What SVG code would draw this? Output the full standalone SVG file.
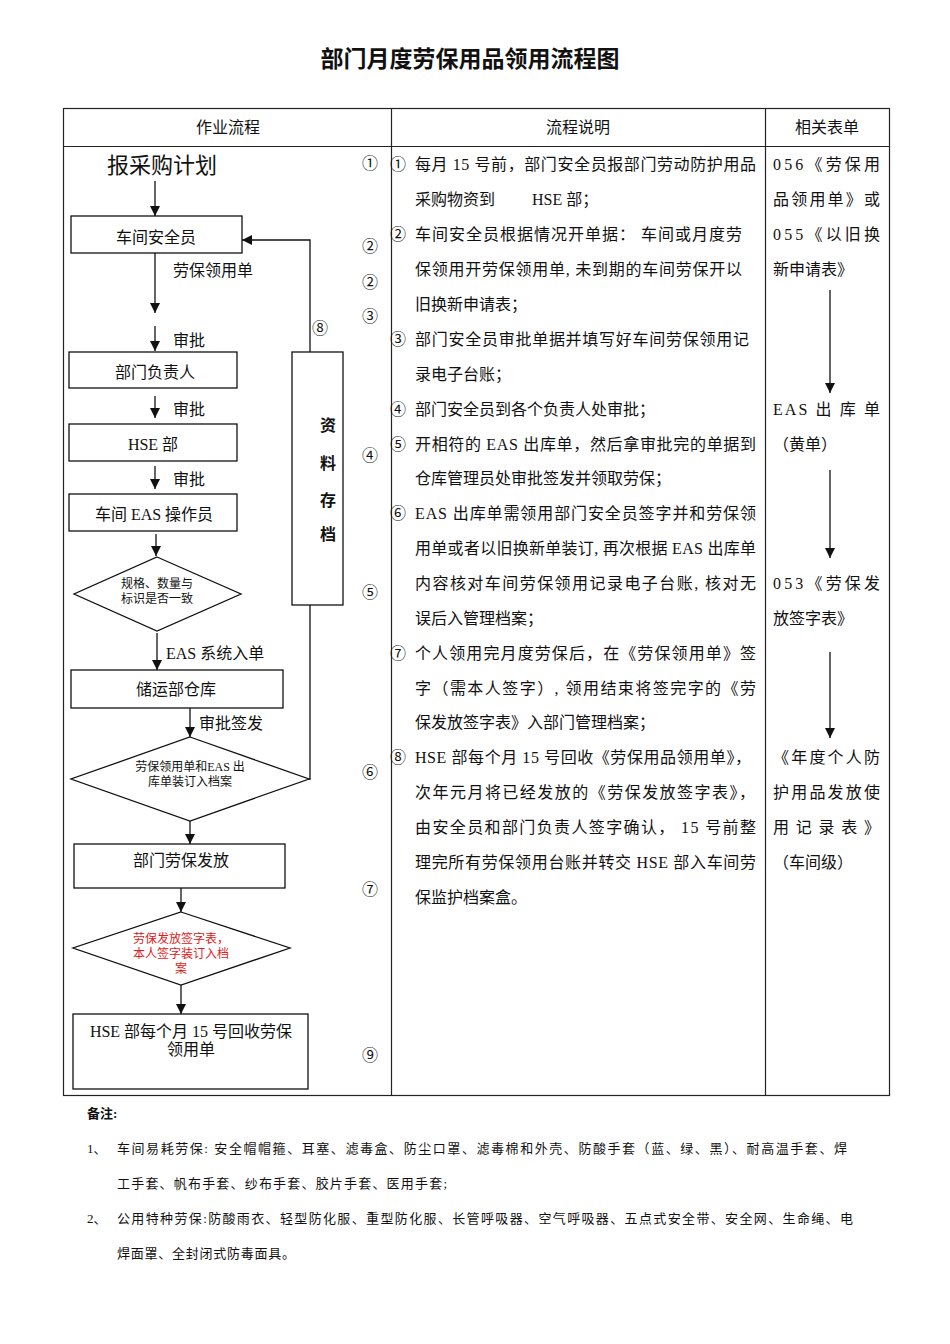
<svg xmlns="http://www.w3.org/2000/svg" width="950" height="1344" viewBox="0 0 950 1344">
<style>
text{font-family:"Liberation Serif","Noto Sans CJK SC",serif;fill:#111;dominant-baseline:central}
.t16{font-size:16px}
.t12{font-size:12px}
.t13{font-size:13px}
.num{font-size:16px;text-anchor:middle}
.mid{text-anchor:middle}
.red{fill:#e02020}
.box{fill:#fff;stroke:#111;stroke-width:1.3}
.grid{stroke:#222;stroke-width:1.2;fill:none}
.ln{stroke:#111;stroke-width:1.3;fill:none}
</style>
<defs>
<marker id="ah" viewBox="0 0 10 10" refX="10" refY="5" markerWidth="10" markerHeight="10" markerUnits="userSpaceOnUse" orient="auto">
<path d="M0,0 L10,5 L0,10 z" fill="#111"/>
</marker>
</defs>
<rect width="950" height="1344" fill="#fff"/>
<text x="470" y="57" class="mid" style="font-size:23px;font-weight:bold;font-family:'Noto Sans CJK SC',sans-serif">部门月度劳保用品领用流程图</text>

<g id="table">
<rect x="63.5" y="108.5" width="826" height="987" class="grid"/>
<line x1="63" y1="146.5" x2="889" y2="146.5" class="grid"/>
<line x1="391.5" y1="108" x2="391.5" y2="1095" class="grid"/>
<line x1="765.5" y1="108" x2="765.5" y2="1095" class="grid"/>
<text x="228" y="127" class="t16 mid">作业流程</text>
<text x="578" y="127" class="t16 mid">流程说明</text>
<text x="827" y="127" class="t16 mid">相关表单</text>
</g>

<g id="connectors">
<line x1="155" y1="181" x2="155" y2="216" class="ln" marker-end="url(#ah)"/>
<line x1="155" y1="253" x2="155" y2="313" class="ln" marker-end="url(#ah)"/>
<line x1="155" y1="326" x2="155" y2="351" class="ln" marker-end="url(#ah)"/>
<line x1="155" y1="396" x2="155" y2="418" class="ln" marker-end="url(#ah)"/>
<line x1="155" y1="466" x2="155" y2="489" class="ln" marker-end="url(#ah)"/>
<line x1="156" y1="534" x2="156" y2="556" class="ln" marker-end="url(#ah)"/>
<line x1="157" y1="633" x2="157" y2="670" class="ln" marker-end="url(#ah)"/>
<line x1="190" y1="708" x2="190" y2="737" class="ln" marker-end="url(#ah)"/>
<polyline points="309,779 310,779 310,240 242,240" class="ln" marker-end="url(#ah)"/>
<line x1="190" y1="821" x2="190" y2="844" class="ln" marker-end="url(#ah)"/>
<line x1="181" y1="888" x2="181" y2="912" class="ln" marker-end="url(#ah)"/>
<line x1="181" y1="985" x2="181" y2="1014" class="ln" marker-end="url(#ah)"/>
<line x1="830" y1="290" x2="830" y2="393" class="ln" marker-end="url(#ah)"/>
<line x1="830" y1="470" x2="830" y2="558" class="ln" marker-end="url(#ah)"/>
<line x1="830" y1="652" x2="830" y2="738" class="ln" marker-end="url(#ah)"/>
<text x="173" y="270" class="t16">劳保领用单</text>
<text x="173" y="340" class="t16">审批</text>
<text x="173" y="409" class="t16">审批</text>
<text x="173" y="479" class="t16">审批</text>
<text x="166" y="653" class="t16">EAS 系统入单</text>
<text x="199" y="723" class="t16">审批签发</text>
<text x="320" y="328" class="num">⑧</text>
</g>

<g id="n-plan"><text x="107" y="165" style="font-size:22px">报采购计划</text></g>
<g id="n-safety"><rect x="71" y="216" width="171" height="37" class="box"/><text x="156" y="237" class="t16 mid">车间安全员</text></g>
<g id="n-head"><rect x="69" y="352" width="168" height="36" class="box"/><text x="155" y="372" class="t16 mid">部门负责人</text></g>
<g id="n-hse"><rect x="69" y="424" width="168" height="37" class="box"/><text x="153" y="444" class="t16 mid">HSE 部</text></g>
<g id="n-eas"><rect x="69" y="494" width="168" height="37" class="box"/><text x="154" y="514" class="t16 mid">车间 EAS 操作员</text></g>
<g id="n-check"><polygon points="157,557 241,594 157,631 74,594" class="box"/><text x="157" y="584" class="t12 mid">规格、数量与</text><text x="157" y="599" class="t12 mid">标识是否一致</text></g>
<g id="n-store"><rect x="71" y="670" width="212" height="38" class="box"/><text x="136" y="689" class="t16">储运部仓库</text></g>
<g id="n-bind"><polygon points="190,737 309,779 190,821 71,779" class="box"/><text x="190" y="767" class="t12 mid">劳保领用单和EAS 出</text><text x="190" y="782" class="t12 mid">库单装订入档案</text></g>
<g id="n-archive"><rect x="292" y="352" width="51" height="253" class="box"/>
<text x="328" y="425" class="t16 mid" style="font-weight:bold">资</text>
<text x="328" y="463" class="t16 mid" style="font-weight:bold">料</text>
<text x="328" y="500" class="t16 mid" style="font-weight:bold">存</text>
<text x="328" y="534" class="t16 mid" style="font-weight:bold">档</text></g>
<g id="n-issue"><rect x="74" y="844" width="211" height="44" class="box"/><text x="181" y="860" class="t16 mid">部门劳保发放</text></g>
<g id="n-sign"><polygon points="181,912 290,948 181,985 73,948" class="box"/>
<text x="181" y="939" class="t12 mid red">劳保发放签字表，</text>
<text x="181" y="954" class="t12 mid red">本人签字装订入档</text>
<text x="181" y="969" class="t12 mid red">案</text></g>
<g id="n-collect"><rect x="73" y="1014" width="235" height="75" class="box"/>
<text x="191" y="1031" class="t16 mid">HSE 部每个月 15 号回收劳保</text>
<text x="191" y="1049" class="t16 mid">领用单</text></g>

<g id="steps">
<text x="370" y="163" class="num">①</text>
<text x="370" y="246" class="num">②</text>
<text x="370" y="282" class="num">②</text>
<text x="370" y="316" class="num">③</text>
<text x="370" y="455" class="num">④</text>
<text x="370" y="592" class="num">⑤</text>
<text x="370" y="772" class="num">⑥</text>
<text x="370" y="889" class="num">⑦</text>
<text x="370" y="1055" class="num">⑨</text>
</g>

<g id="description" class="t16">
<text x="398" y="164" class="num">①</text>
<text x="415" y="164" textLength="341" lengthAdjust="spacing">每月 15 号前，部门安全员报部门劳动防护用品</text>
<text x="415" y="199">采购物资到</text>
<text x="532" y="199">HSE 部；</text>
<text x="398" y="234" class="num">②</text>
<text x="415" y="234" textLength="327" lengthAdjust="spacing">车间安全员根据情况开单据：  车间或月度劳</text>
<text x="415" y="269" textLength="327" lengthAdjust="spacing">保领用开劳保领用单, 未到期的车间劳保开以</text>
<text x="415" y="304">旧换新申请表；</text>
<text x="398" y="339" class="num">③</text>
<text x="415" y="339" textLength="334" lengthAdjust="spacing">部门安全员审批单据并填写好车间劳保领用记</text>
<text x="415" y="374">录电子台账；</text>
<text x="398" y="409" class="num">④</text>
<text x="415" y="409">部门安全员到各个负责人处审批；</text>
<text x="398" y="444" class="num">⑤</text>
<text x="415" y="444" textLength="341" lengthAdjust="spacing">开相符的 EAS 出库单，然后拿审批完的单据到</text>
<text x="415" y="478">仓库管理员处审批签发并领取劳保；</text>
<text x="398" y="513" class="num">⑥</text>
<text x="415" y="513" textLength="341" lengthAdjust="spacing">EAS 出库单需领用部门安全员签字并和劳保领</text>
<text x="415" y="548" textLength="341" lengthAdjust="spacing">用单或者以旧换新单装订, 再次根据 EAS 出库单</text>
<text x="415" y="583" textLength="341" lengthAdjust="spacing">内容核对车间劳保领用记录电子台账, 核对无</text>
<text x="415" y="618">误后入管理档案；</text>
<text x="398" y="653" class="num">⑦</text>
<text x="415" y="653" textLength="341" lengthAdjust="spacing">个人领用完月度劳保后，在《劳保领用单》签</text>
<text x="415" y="688" textLength="341" lengthAdjust="spacing">字（需本人签字）, 领用结束将签完字的《劳</text>
<text x="415" y="722">保发放签字表》入部门管理档案；</text>
<text x="398" y="757" class="num">⑧</text>
<text x="415" y="757" textLength="336" lengthAdjust="spacing">HSE 部每个月 15 号回收《劳保用品领用单》，</text>
<text x="415" y="792" textLength="340" lengthAdjust="spacing">次年元月将已经发放的《劳保发放签字表》，</text>
<text x="415" y="827" textLength="341" lengthAdjust="spacing">由安全员和部门负责人签字确认，  15 号前整</text>
<text x="415" y="862" textLength="341" lengthAdjust="spacing">理完所有劳保领用台账并转交 HSE 部入车间劳</text>
<text x="415" y="897">保监护档案盒。</text>
</g>

<g id="forms" class="t16">
<text x="773" y="164" textLength="107" lengthAdjust="spacing">056《劳保用</text>
<text x="773" y="199" textLength="107" lengthAdjust="spacing">品领用单》或</text>
<text x="773" y="234" textLength="107" lengthAdjust="spacing">055《以旧换</text>
<text x="773" y="269">新申请表》</text>
<text x="773" y="409" textLength="107" lengthAdjust="spacing">EAS 出 库 单</text>
<text x="773" y="444">（黄单）</text>
<text x="773" y="583" textLength="107" lengthAdjust="spacing">053《劳保发</text>
<text x="773" y="618">放签字表》</text>
<text x="773" y="757" textLength="107" lengthAdjust="spacing">《年度个人防</text>
<text x="773" y="792" textLength="107" lengthAdjust="spacing">护用品发放使</text>
<text x="773" y="827" textLength="107" lengthAdjust="spacing">用 记 录 表 》</text>
<text x="773" y="862">（车间级）</text>
</g>

<g id="notes" class="t13">
<text x="87" y="1113" style="font-weight:bold">备注:</text>
<text x="87" y="1148">1、</text>
<text x="117" y="1148" textLength="730" lengthAdjust="spacing">车间易耗劳保: 安全帽帽箍、耳塞、滤毒盒、防尘口罩、滤毒棉和外壳、防酸手套（蓝、绿、黑）、耐高温手套、焊</text>
<text x="117" y="1183" textLength="330" lengthAdjust="spacing">工手套、帆布手套、纱布手套、胶片手套、医用手套;</text>
<text x="87" y="1218">2、</text>
<text x="117" y="1218" textLength="736" lengthAdjust="spacing">公用特种劳保:防酸雨衣、轻型防化服、重型防化服、长管呼吸器、空气呼吸器、五点式安全带、安全网、生命绳、电</text>
<text x="117" y="1253" textLength="178" lengthAdjust="spacing">焊面罩、全封闭式防毒面具。</text>
</g>
</svg>
